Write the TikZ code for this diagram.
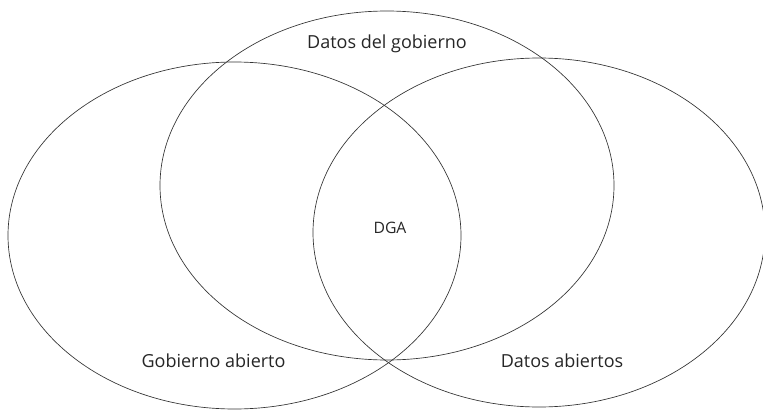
\documentclass[tikz,border=0pt]{standalone}
\usepackage{fontspec}
\setmainfont{Open Sans}
\begin{document}
\begin{tikzpicture}[x=0.75pt,y=0.75pt,yscale=-1,xscale=1]
\useasboundingbox (0,0) rectangle (763,410);
%Shape: Ellipse [id:gobierno_abierto]
\draw [color=black!80, line width=0.5pt]  (234.5,235.5) ellipse (226.5 and 173.5) ;
%Shape: Ellipse [id:datos_gobierno]
\draw [color=black!80, line width=0.5pt]  (387,185.5) ellipse (227 and 174.5) ;
%Shape: Ellipse [id:datos_abiertos]
\draw [color=black!80, line width=0.5pt]  (539,232.5) ellipse (226 and 174.5) ;
% Text Node
\draw (387,44) node (lblgob) [inner sep=0.75pt]  [font=\fontsize{13.5}{16}\selectfont, color=black!85] [align=left] {Datos del gobierno};
% Text Node
\draw (390,228) node (lbldga) [inner sep=0.75pt]  [font=\fontsize{11.8}{14}\selectfont, color=black!85] [align=left] {DGA};
% Text Node
\draw (213.5,361) node (lblga) [inner sep=0.75pt]  [font=\fontsize{13.5}{16}\selectfont, color=black!85] [align=left] {Gobierno abierto};
% Text Node
\draw (562,361) node (lblda) [inner sep=0.75pt]  [font=\fontsize{13.5}{16}\selectfont, color=black!85] [align=left] {Datos abiertos};
\end{tikzpicture}
\end{document}
